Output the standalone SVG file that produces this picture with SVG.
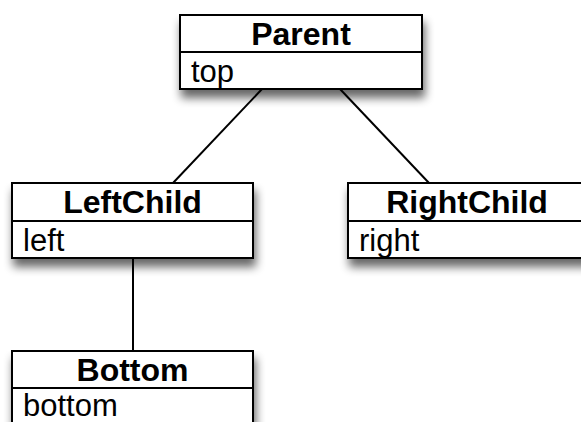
<svg xmlns="http://www.w3.org/2000/svg" width="581" height="422" viewBox="0 0 581 422">
<defs>
<filter id="shadow" x="-10%" y="-10%" width="130%" height="160%">
<feGaussianBlur in="SourceAlpha" stdDeviation="5"/>
<feOffset dx="2" dy="8" result="b"/>
<feComponentTransfer><feFuncA type="linear" slope="0.6"/></feComponentTransfer>
<feMerge><feMergeNode/><feMergeNode in="SourceGraphic"/></feMerge>
</filter>
<style>
.box{fill:#fff;stroke:#000;stroke-width:2}
.div{stroke:#000;stroke-width:2}
.title{font-family:"Liberation Sans",Arial,sans-serif;font-weight:bold;font-size:32px;text-anchor:middle;fill:#000}
.attr{font-family:"Liberation Sans",Arial,sans-serif;font-size:31px;fill:#000}
.conn{stroke:#000;stroke-width:2;fill:none}
</style>
</defs>
<rect width="581" height="422" fill="#fff"/>
<g id="connectors">
<line class="conn" x1="262" y1="89" x2="173" y2="183"/>
<line class="conn" x1="340" y1="89" x2="429" y2="183"/>
<line class="conn" x1="133" y1="258" x2="133" y2="351"/>
</g>
<g id="Parent">
<rect class="box" x="180" y="15" width="242" height="74" filter="url(#shadow)"/>
<line class="div" x1="180" y1="52" x2="422" y2="52"/>
<text class="title" x="301" y="45">Parent</text>
<text class="attr" x="191" y="82">top</text>
</g>
<g id="LeftChild">
<rect class="box" x="12" y="183" width="241" height="75" filter="url(#shadow)"/>
<line class="div" x1="12" y1="221" x2="253" y2="221"/>
<text class="title" x="132.5" y="213">LeftChild</text>
<text class="attr" x="23" y="251">left</text>
</g>
<g id="RightChild">
<rect class="box" x="348" y="183" width="241" height="75" filter="url(#shadow)"/>
<line class="div" x1="348" y1="221" x2="589" y2="221"/>
<text class="title" x="467" y="213">RightChild</text>
<text class="attr" x="359" y="251">right</text>
</g>
<g id="Bottom">
<rect class="box" x="12" y="351" width="241" height="75" filter="url(#shadow)"/>
<line class="div" x1="12" y1="388" x2="253" y2="388"/>
<text class="title" x="132.5" y="381">Bottom</text>
<text class="attr" x="23" y="416">bottom</text>
</g>
</svg>
